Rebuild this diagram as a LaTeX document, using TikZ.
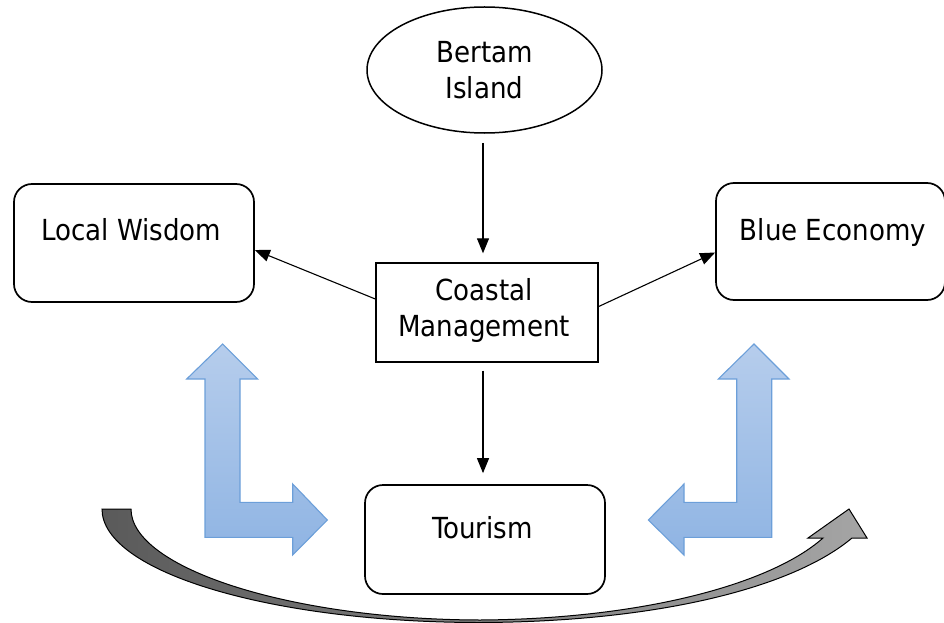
\documentclass[tikz,border=0pt]{standalone}
\usepackage{fontspec}
\setmainfont{DejaVu Sans Condensed}
\usetikzlibrary{shapes.geometric,arrows.meta}
\definecolor{bluetop}{RGB}{182,205,236}
\definecolor{bluebot}{RGB}{143,180,227}
\definecolor{blueedge}{RGB}{108,159,217}
\definecolor{grayleft}{RGB}{90,90,90}
\definecolor{grayright}{RGB}{165,165,165}
\tikzset{
  box/.style={draw=black, line width=1.7pt, rounded corners=18pt, inner sep=0pt},
  sqbox/.style={draw=black, line width=1.4pt, inner sep=0pt},
  oval/.style={draw=black, line width=1.5pt, ellipse, inner sep=0pt},
  lbl/.style={font=\fontsize{29}{36}\selectfont, inner sep=0pt, align=center},
  conn/.style={line width=1.1pt, -{Triangle[length=15pt,width=12pt]}},
  bent/.style={top color=bluetop, bottom color=bluebot, draw=blueedge, line width=1.1pt, line join=miter},
  curved/.style={left color=grayleft, right color=grayright, draw=black, line width=1pt}
}
\begin{document}
\begin{tikzpicture}[x=1pt,y=-1pt]
\useasboundingbox (0,0) rectangle (944,623);
% shapes
\node[oval, minimum width=235pt, minimum height=126pt] (bertam) at (484.5,70) {};
\node[box, minimum width=240pt, minimum height=118pt] (lw) at (134,243) {};
\node[box, minimum width=229pt, minimum height=117pt] (be) at (830.5,241.5) {};
\node[sqbox, minimum width=222pt, minimum height=99pt] (cm) at (487,312.5) {};
\node[box, minimum width=240pt, minimum height=109pt] (tour) at (485,539.5) {};
% texts
\node[lbl] (tbertam) at (484.5,70) {Bertam\\Island};
\node[lbl, anchor=base] (tlw) at (131.4,240) {Local Wisdom};
\node[lbl, anchor=base] (tbe) at (833,240) {Blue Economy};
\node[lbl] (tcm) at (484,310) {Coastal\\Management};
\node[lbl, anchor=base] (ttour) at (482.5,538) {Tourism};
% connectors
\draw[conn, shorten >=9pt] ([xshift=-1.5pt,yshift=-9pt]bertam.south) -- ([xshift=-1.5pt]bertam.south |- cm.north);
\draw[conn] ([yshift=13.5pt]cm.west) -- ([yshift=-7pt]lw.east);
\draw[conn] ([yshift=6pt]cm.east) -- ([yshift=-11pt]be.west);
\draw[conn, shorten <=8pt, shorten >=11pt] ([xshift=-4pt]cm.south) -- ([xshift=-2pt]tour.north);
% bent blue arrows
\path[bent] (222.7,344) -- (257.7,379) -- (240,379) -- (240,502.3) -- (292.7,502.3) -- (292.7,484) -- (327.3,520) -- (292.7,555) -- (292.7,537.3) -- (205,537.3) -- (205,379) -- (186.7,379) -- cycle;
\path[bent] (754,344) -- (789,379) -- (771.7,379) -- (771.7,537.3) -- (684,537.3) -- (684,555) -- (648.3,520) -- (684,484) -- (684,502.3) -- (736.7,502.3) -- (736.7,379) -- (718.3,379) -- cycle;
% curved gray arrow
\path[curved] (102,509) .. controls (102,572) and (271,622.5) .. (480,622.5)
  .. controls (650,622) and (790,590) .. (852,538) -- (867,538) -- (849,509) -- (808,538) -- (823,538)
  .. controls (770,585) and (640,619) .. (480,620)
  .. controls (290,619.5) and (131,568) .. (131,509) -- cycle;
\end{tikzpicture}
\end{document}
